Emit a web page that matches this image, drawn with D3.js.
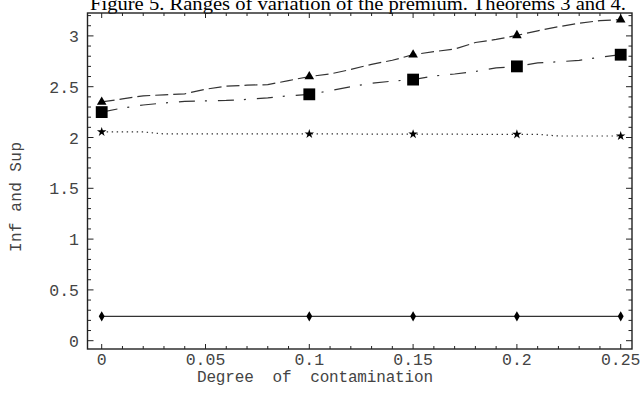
<!DOCTYPE html>
<html lang="en">
<head>
<meta charset="utf-8">
<title>Figure 5</title>
<script src="https://d3js.org/d3.v7.min.js"></script>
<style>
  body { margin: 0; background: #fff; }
  svg { display: block; }
  .tick-label { font-family: "Liberation Mono", "DejaVu Sans Mono", monospace; font-size: 16.5px; fill: #444; }
  .axis-title { font-family: "Liberation Mono", "DejaVu Sans Mono", monospace; font-size: 16px; fill: #444; white-space: pre; }
  .title { font-family: "Liberation Serif", "Times New Roman", serif; font-size: 18px; fill: #000; }
</style>
</head>
<body>
<div id="chart"></div>
<script>
// degree of contamination, sampled on the curves
var xs = [0, 0.01, 0.02, 0.03, 0.04, 0.05, 0.06, 0.07, 0.08, 0.09,
          0.10, 0.11, 0.12, 0.13, 0.14, 0.15, 0.16, 0.17, 0.18, 0.19,
          0.20, 0.21, 0.22, 0.23, 0.24, 0.25];

// dashed, triangles
var supTriangle = [2.35, 2.38, 2.41, 2.42, 2.43, 2.475, 2.505, 2.515, 2.52, 2.56,
                   2.60, 2.625, 2.67, 2.72, 2.76, 2.815, 2.845, 2.87, 2.935, 2.965,
                   3.005, 3.05, 3.09, 3.125, 3.15, 3.16];
// dash-dot, squares
var supSquare = [2.25, 2.29, 2.32, 2.34, 2.355, 2.36, 2.365, 2.375, 2.39, 2.41,
                 2.425, 2.46, 2.50, 2.535, 2.555, 2.57, 2.605, 2.625, 2.65, 2.685,
                 2.70, 2.735, 2.745, 2.76, 2.79, 2.815];
// dotted, stars
var infStar = [2.055, 2.055, 2.055, 2.035, 2.035, 2.035, 2.035, 2.035, 2.035, 2.035,
               2.035, 2.035, 2.035, 2.033, 2.033, 2.033, 2.033, 2.033, 2.031, 2.031,
               2.031, 2.031, 2.015, 2.015, 2.015, 2.015];
// solid, diamonds
var infDiamond = [0.24, 0.24, 0.24, 0.24, 0.24, 0.24, 0.24, 0.24, 0.24, 0.24,
                  0.24, 0.24, 0.24, 0.24, 0.24, 0.24, 0.24, 0.24, 0.24, 0.24,
                  0.24, 0.24, 0.24, 0.24, 0.24, 0.24];

var markerXs = [0, 0.1, 0.15, 0.2, 0.25];
var xTickLabels = [0, 0.05, 0.1, 0.15, 0.2, 0.25];
var yTickLabels = [0, 0.5, 1, 1.5, 2, 2.5, 3];

var width = 643, height = 402;
var frame = {left: 87.5, right: 632, top: 13, bottom: 349};

var svg = d3.select("#chart").append("svg")
  .attr("width", width)
  .attr("height", height);

var x = d3.scaleLinear().domain([0, 0.25]).range([101.7, 620.7]);
var y = d3.scaleLinear().domain([0, 3]).range([340.7, 35.9]);

// title (runs off the top edge like the scan)
svg.append("text")
  .attr("class", "title")
  .attr("x", 90).attr("y", 10)
  .attr("textLength", 536)
  .attr("lengthAdjust", "spacingAndGlyphs")
  .text("Figure 5. Ranges of variation of the premium. Theorems 3 and 4.");

// frame
svg.append("rect")
  .attr("x", frame.left).attr("y", frame.top)
  .attr("width", frame.right - frame.left)
  .attr("height", frame.bottom - frame.top)
  .attr("fill", "none")
  .attr("stroke", "#222")
  .attr("stroke-width", 1.4);

// ticks on all four sides, pointing inward
var xMinor = d3.range(0, 0.2501, 0.01);
var yMinor = d3.range(0, 3.21, 0.1);
function isMajor(v, step) { return Math.abs(v / step - Math.round(v / step)) < 1e-6; }

var ticks = svg.append("g").attr("stroke", "#222").attr("stroke-width", 1);
xMinor.forEach(function(v) {
  var len = isMajor(v, 0.05) ? 5 : 3;
  ticks.append("line").attr("x1", x(v)).attr("x2", x(v))
    .attr("y1", frame.bottom).attr("y2", frame.bottom - len);
  ticks.append("line").attr("x1", x(v)).attr("x2", x(v))
    .attr("y1", frame.top).attr("y2", frame.top + len);
});
yMinor.forEach(function(v) {
  var len = isMajor(v, 0.5) ? 6 : 3.5;
  ticks.append("line").attr("y1", y(v)).attr("y2", y(v))
    .attr("x1", frame.left).attr("x2", frame.left + len);
  ticks.append("line").attr("y1", y(v)).attr("y2", y(v))
    .attr("x1", frame.right).attr("x2", frame.right - len);
});

// tick labels
svg.append("g").selectAll("text")
  .data(xTickLabels).enter().append("text")
  .attr("class", "tick-label")
  .attr("x", function(d) { return x(d); })
  .attr("y", 365)
  .attr("text-anchor", "middle")
  .text(function(d) { return String(d); });

svg.append("g").selectAll("text")
  .data(yTickLabels).enter().append("text")
  .attr("class", "tick-label")
  .attr("x", 79)
  .attr("y", function(d) { return y(d) + 6; })
  .attr("text-anchor", "end")
  .text(function(d) { return String(d); });

// axis titles
svg.append("text")
  .attr("class", "axis-title")
  .attr("x", 197).attr("y", 382)
  .attr("textLength", 236)
  .attr("lengthAdjust", "spacing")
  .text("Degree  of  contamination");

svg.append("text")
  .attr("class", "axis-title")
  .attr("transform", "translate(21,197) rotate(-90)")
  .attr("text-anchor", "middle")
  .attr("textLength", 110)
  .attr("lengthAdjust", "spacing")
  .text("Inf and Sup");

// curves
var series = [
  {values: supTriangle, dash: "13,5", symbol: d3.symbolTriangle, size: 40},
  {values: supSquare, dash: "16,10,2,11", symbol: d3.symbolSquare, size: 140},
  {values: infStar, dash: "1.4,3.6", symbol: d3.symbolStar, size: 28},
  {values: infDiamond, dash: null, symbol: d3.symbolDiamond, size: 30}
];

var line = d3.line()
  .x(function(d) { return x(d[0]); })
  .y(function(d) { return y(d[1]); });

series.forEach(function(s) {
  var pts = xs.map(function(v, i) { return [v, s.values[i]]; });
  svg.append("path")
    .datum(pts)
    .attr("d", line)
    .attr("fill", "none")
    .attr("stroke", "#333")
    .attr("stroke-width", 1.2)
    .attr("stroke-dasharray", s.dash);

  svg.append("g").selectAll("path")
    .data(markerXs).enter().append("path")
    .attr("transform", function(d) {
      var i = xs.indexOf(d);
      return "translate(" + x(d) + "," + y(s.values[i]) + ")";
    })
    .attr("d", d3.symbol().type(s.symbol).size(s.size))
    .attr("fill", "#000");
});
</script>
</body>
</html>
